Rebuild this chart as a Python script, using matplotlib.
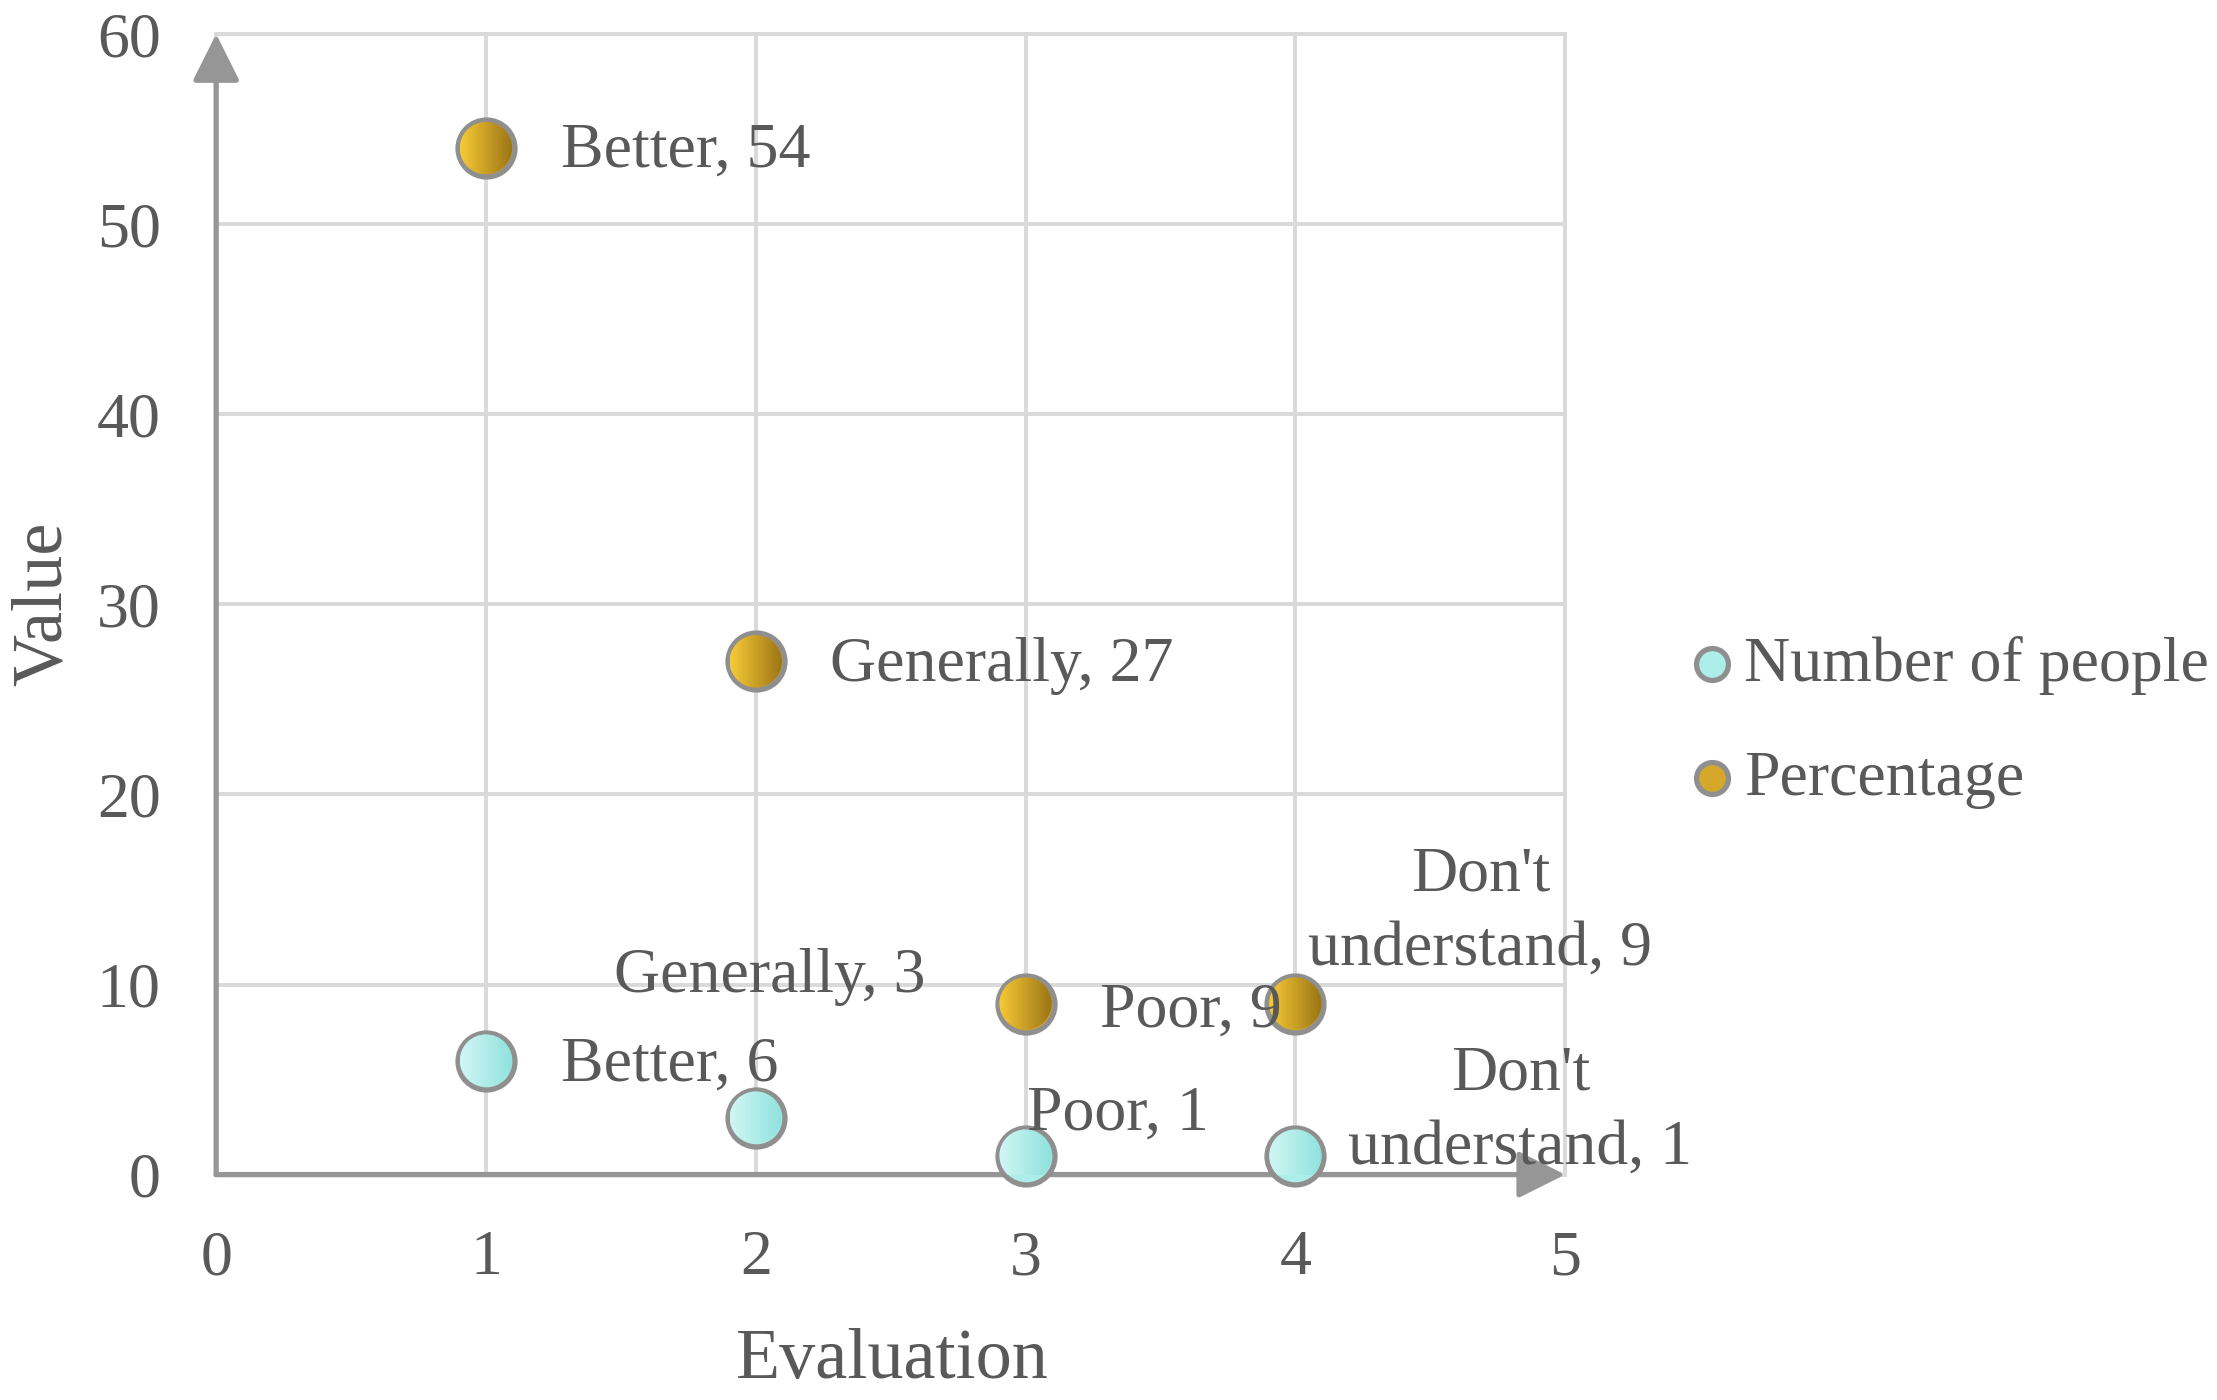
import numpy as np
import matplotlib.pyplot as plt
from matplotlib.patches import Circle
from matplotlib.transforms import ScaledTranslation
from matplotlib.colors import LinearSegmentedColormap

plt.rcParams['font.family'] = ['Liberation Serif', 'DejaVu Serif']

# data
evaluation = [1, 2, 3, 4]
categories = ['Better', 'Generally', 'Poor', "Don't\nunderstand"]
people = [6, 3, 1, 1]
percentage = [54, 27, 9, 9]
series_names = ['Number of people', 'Percentage']

# label offsets in pixels (dx, dy, ha)
people_offsets = [(75, -5, 'left'), (14, 141, 'center'), (92, 41, 'center'), (225, 44, 'center')]
pct_offsets = [(75, -4, 'left'), (74, -5, 'left'), (74, -8, 'left'), (185, 91, 'center')]

TXT = '#595959'
AXC = '#969696'
GRID = '#d9d9d9'
EDGE = '#8f8f8f'
FS = 46

fig = plt.figure(figsize=(22.17, 14), dpi=100)
ax = fig.add_axes([0.0975, 0.161, 0.6085, 0.8147])
ax.set_autoscale_on(False)
ax.set_xlim(0, 5)
ax.set_ylim(0, 60)

for s in ax.spines.values():
    s.set_visible(False)
ax.set_xticks(range(0, 6))
ax.set_yticks(range(0, 61, 10))
ax.tick_params(length=0, labelsize=FS, labelcolor=TXT, pad=40)
ax.grid(True, color=GRID, lw=2.8, zorder=0)
ax.set_axisbelow(True)
for gl in ax.get_xgridlines() + ax.get_ygridlines():
    gl.set_clip_on(False)

# axis arrows
arrow = dict(arrowstyle='-|>,head_length=2.9,head_width=1.45', color=AXC, lw=3.8,
             shrinkA=0, shrinkB=0, mutation_scale=10)
ax.annotate('', xy=(0, 1), xytext=(0, 0), xycoords='axes fraction', arrowprops=arrow,
            annotation_clip=False, zorder=3)
ax.annotate('', xy=(1, 0), xytext=(0, 0), xycoords='axes fraction', arrowprops=arrow,
            annotation_clip=False, zorder=3)

ax.set_xlabel('Evaluation', fontsize=52, color=TXT)
ax.set_ylabel('Value', fontsize=52, color=TXT)
ax.xaxis.set_label_coords(0.501, -0.163)
ax.xaxis.label.set_va('center')
ax.yaxis.set_label_coords(-0.128, 0.5)
ax.yaxis.label.set_va('center')


def gradient_dots(xs, ys, c0, c1, r_in=0.262):
    cmap = LinearSegmentedColormap.from_list('g', [c0, c1])
    grad = np.linspace(0, 1, 128).reshape(1, -1)
    for x, y in zip(xs, ys):
        tr = fig.dpi_scale_trans + ScaledTranslation(x, y, ax.transData)
        circ = Circle((0, 0), r_in, transform=tr)
        im = ax.imshow(grad, cmap=cmap, extent=[-r_in, r_in, -r_in, r_in], transform=tr,
                       aspect='auto', interpolation='bilinear', zorder=6)
        im.set_clip_path(circ)
        im.set_clip_box(None)


sc1 = ax.scatter(evaluation, people, s=1680, color='#aeeeea', edgecolor=EDGE, lw=3.8,
                 zorder=5, clip_on=False, label=series_names[0])
sc2 = ax.scatter(evaluation, percentage, s=1680, color='#d6a82a', edgecolor=EDGE, lw=3.8,
                 zorder=5, clip_on=False, label=series_names[1])
gradient_dots(evaluation, people, '#d2f6f4', '#8ee2dd')
gradient_dots(evaluation, percentage, '#f7ca36', '#9b7415')

for x, y, c, (dx, dy, ha) in zip(evaluation, people, categories, people_offsets):
    ax.annotate(f'{c}, {y}', (x, y), xytext=(dx, dy), textcoords='offset pixels',
                ha=ha, va='center', fontsize=FS, color=TXT, linespacing=1.38, zorder=7,
                annotation_clip=False)
for x, y, c, (dx, dy, ha) in zip(evaluation, percentage, categories, pct_offsets):
    ax.annotate(f'{c}, {y}', (x, y), xytext=(dx, dy), textcoords='offset pixels',
                ha=ha, va='center', fontsize=FS, color=TXT, linespacing=1.38, zorder=7,
                annotation_clip=False)

fig.legend(handles=[sc1, sc2], loc='center left', bbox_to_anchor=(0.7637, 0.4839),
           frameon=False, fontsize=FS, labelcolor=TXT, markerscale=0.56, scatterpoints=1,
           handlelength=0.6, handletextpad=0.2, labelspacing=0.87, borderpad=0,
           borderaxespad=0)

fig.savefig('out.png', dpi=100)
